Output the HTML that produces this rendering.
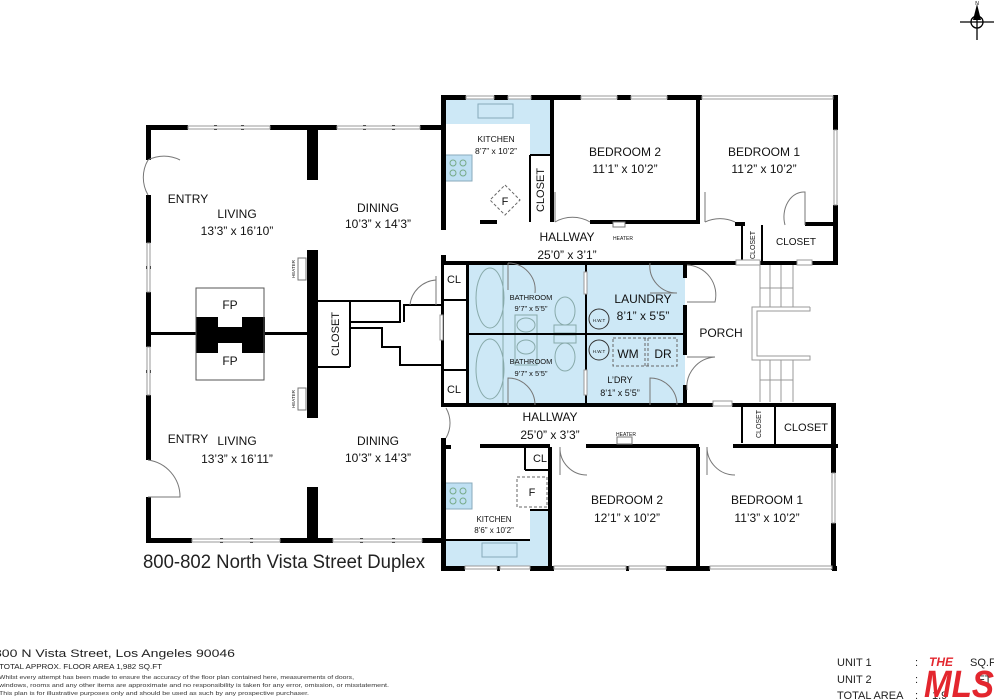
<!DOCTYPE html>
<html><head><meta charset="utf-8"><style>
html,body{margin:0;padding:0;background:#fff;}
svg{display:block;font-family:"Liberation Sans",sans-serif;}
</style></head><body>
<svg width="994" height="699" viewBox="0 0 994 699" xmlns="http://www.w3.org/2000/svg">
<rect width="994" height="699" fill="#fff"/>
<g fill="#cde8f6">
<polygon points="443,99 552,99 552,155 530,155 530,124 443,124"/>
<rect x="467" y="263" width="218" height="142"/>
<polygon points="443,540 530,540 530,510 550,510 550,568 443,568"/>
</g>
<g fill="#bfe0f3" stroke="#8ab" stroke-width="1">
<rect x="445" y="155" width="27" height="26"/>
<rect x="445" y="483" width="27" height="26"/>
<rect x="478" y="104" width="35" height="14" fill="none"/>
<rect x="482" y="543" width="35" height="14" fill="none"/>
</g>
<g fill="none" stroke="#7a8" stroke-width="1">
<circle cx="453" cy="163" r="3"/><circle cx="463" cy="163" r="3"/><circle cx="453" cy="173" r="3"/><circle cx="463" cy="173" r="3"/>
<circle cx="453" cy="491" r="3"/><circle cx="463" cy="491" r="3"/><circle cx="453" cy="501" r="3"/><circle cx="463" cy="501" r="3"/>
</g>
<g fill="none" stroke="#8aa" stroke-width="1">
<ellipse cx="490" cy="298" rx="14" ry="30"/><ellipse cx="490" cy="369" rx="14" ry="30"/>
<line x1="503" y1="265" x2="503" y2="403"/>
<rect x="515" y="315" width="22" height="50"/>
<ellipse cx="526" cy="325" rx="9" ry="7"/><ellipse cx="526" cy="347" rx="9" ry="7"/>
<ellipse cx="565" cy="311" rx="10" ry="14"/><rect x="554" y="325" width="22" height="8"/><rect x="554" y="335" width="22" height="8"/><ellipse cx="565" cy="357" rx="10" ry="14"/>
<circle cx="599" cy="319" r="10" stroke="#333"/><circle cx="599" cy="350" r="10" stroke="#333"/>
</g>
<g fill="none" stroke="#666" stroke-width="1" stroke-dasharray="3,2">
<rect x="613" y="338" width="64" height="28"/><line x1="645" y1="338" x2="645" y2="366"/><line x1="648" y1="338" x2="648" y2="366"/>
<polygon points="505,185 520,200 505,215 490,200"/>
<rect x="517" y="477" width="30" height="30"/>
</g>
<g fill="none" stroke="#000" stroke-width="2">
<line x1="350" y1="301" x2="350" y2="367"/>
<line x1="318" y1="301" x2="350" y2="301"/>
<line x1="318" y1="367" x2="350" y2="367"/>
<polyline points="350,301 400,301 400,322 350,322"/>
<polyline points="350,328 382,328 382,347 400,347 400,365 441,365"/>
<polyline points="404,322 404,305 441,305"/>
<line x1="441" y1="300" x2="467" y2="300"/>
<line x1="441" y1="370" x2="467" y2="370"/>
<line x1="467" y1="334" x2="685" y2="334"/>
<line x1="586" y1="263" x2="586" y2="405"/>
<line x1="530" y1="155" x2="552" y2="155"/>
<line x1="530" y1="155" x2="530" y2="222"/>
<line x1="742" y1="225" x2="742" y2="265"/>
<line x1="762" y1="225" x2="762" y2="265"/>
<line x1="742" y1="405" x2="742" y2="443"/>
<line x1="775" y1="405" x2="775" y2="447"/>
<line x1="525" y1="447" x2="525" y2="470"/><line x1="525" y1="470" x2="550" y2="470"/>
<line x1="530" y1="510" x2="550" y2="510"/>
<line x1="443" y1="540" x2="530" y2="540"/>
</g>
<g fill="#000">
<!-- left block top wall y=127 -->
<rect x="146" y="125" width="42" height="5"/><rect x="214" y="125" width="3" height="5"/><rect x="241" y="125" width="3" height="5"/>
<rect x="270" y="125" width="67" height="5"/><rect x="363" y="125" width="3" height="5"/><rect x="392" y="125" width="3" height="5"/><rect x="420" y="125" width="24" height="5"/>
<!-- left block bottom wall y=540 -->
<rect x="146" y="538" width="46" height="5"/><rect x="220" y="538" width="3" height="5"/><rect x="250" y="538" width="3" height="5"/><rect x="280" y="538" width="53" height="5"/><rect x="360" y="538" width="3" height="5"/><rect x="392" y="538" width="3" height="5"/><rect x="422" y="538" width="22" height="5"/>
<!-- left wall -->
<rect x="146" y="125" width="5" height="35"/><rect x="146" y="195" width="5" height="48"/><rect x="146" y="266" width="5" height="3"/><rect x="146" y="292" width="5" height="55"/><rect x="146" y="370" width="5" height="3"/><rect x="146" y="395" width="5" height="65"/><rect x="146" y="497" width="5" height="46"/>
<rect x="148" y="332" width="50" height="3"/><rect x="265" y="332" width="42" height="3"/>
<rect x="307" y="127" width="11" height="53"/><rect x="307" y="250" width="11" height="168"/><rect x="307" y="487" width="11" height="53"/>
<rect x="196" y="317" width="69" height="36"/>
<rect x="441" y="95" width="5" height="135"/><rect x="441" y="255" width="5" height="8"/>
<rect x="441" y="95" width="25" height="5"/><rect x="494" y="95" width="14" height="5"/><rect x="531" y="95" width="50" height="5"/><rect x="617" y="95" width="14" height="5"/><rect x="667" y="95" width="35" height="5"/>
<rect x="833" y="95" width="5" height="35"/><rect x="833" y="205" width="5" height="60"/>
<rect x="550" y="97" width="4" height="125"/><rect x="696" y="97" width="4" height="127"/>
<rect x="480" y="220" width="17" height="4"/><rect x="590" y="220" width="108" height="4"/><rect x="735" y="222" width="10" height="4"/><rect x="805" y="222" width="33" height="4"/>
<rect x="441" y="261" width="240" height="4"/><rect x="681" y="261" width="55" height="4"/><rect x="760" y="261" width="78" height="4"/>
<rect x="441" y="261" width="3" height="145"/><rect x="466" y="261" width="3" height="145"/>
<rect x="441" y="403" width="246" height="4"/><rect x="683" y="403" width="30" height="4"/><rect x="732" y="403" width="103" height="4"/>
<rect x="683" y="263" width="4" height="15"/><rect x="683" y="305" width="4" height="50"/><rect x="683" y="385" width="4" height="22"/>
<rect x="441" y="438" width="5" height="133"/><rect x="441" y="445" width="10" height="4"/>
<rect x="480" y="444" width="70" height="4"/><rect x="586" y="444" width="113" height="4"/><rect x="733" y="444" width="105" height="4"/>
<rect x="831" y="403" width="5" height="70"/><rect x="831" y="523" width="5" height="47"/>
<rect x="548" y="447" width="4" height="123"/><rect x="696" y="447" width="4" height="123"/>
<rect x="441" y="566" width="24" height="5"/><rect x="497" y="566" width="3" height="5"/><rect x="530" y="566" width="24" height="5"/><rect x="626" y="566" width="3" height="5"/><rect x="666" y="566" width="44" height="5"/><rect x="832" y="566" width="5" height="5"/>
</g>
<g fill="none" stroke="#555" stroke-width="1">
<rect x="196" y="288" width="68" height="92"/>
</g>
<rect x="218" y="317" width="24" height="10" fill="#fff"/><rect x="218" y="343" width="24" height="10" fill="#fff"/>
<g fill="#fff" stroke="#999" stroke-width="1">
<rect x="188" y="126" width="82" height="3"/><rect x="337" y="126" width="83" height="3"/>
<rect x="192" y="539" width="88" height="3"/><rect x="333" y="539" width="89" height="3"/>
<rect x="147" y="243" width="3" height="49"/><rect x="147" y="347" width="3" height="48"/>
<rect x="466" y="96" width="28" height="3"/><rect x="508" y="96" width="23" height="3"/><rect x="581" y="96" width="36" height="3"/><rect x="631" y="96" width="36" height="3"/><rect x="702" y="96" width="131" height="3"/>
<rect x="834" y="130" width="3" height="75"/><rect x="832" y="473" width="3" height="50"/>
<rect x="465" y="566" width="32" height="3"/><rect x="500" y="566" width="30" height="3"/><rect x="554" y="566" width="72" height="3"/><rect x="629" y="566" width="37" height="3"/><rect x="710" y="566" width="122" height="3"/>
<rect x="440" y="315" width="3" height="25"/><rect x="584" y="272" width="3" height="22"/><rect x="584" y="370" width="3" height="25"/>
<rect x="713" y="401" width="19" height="5"/><rect x="736" y="260" width="24" height="5"/><rect x="797" y="260" width="15" height="5"/>
</g>
<g fill="none" stroke="#777" stroke-width="1">
<path d="M148,160 A35,35 0 0 1 180,160 M148,160 A35,35 0 0 0 148,195"/>
<path d="M148,460 A37,37 0 0 1 180,497 L148,497"/>
<path d="M436,280 A28,28 0 0 0 410,305"/><line x1="436" y1="276" x2="436" y2="305"/>
<path d="M555,222 A35,35 0 0 1 590,222 M555,192 L555,222" />
<path d="M705,222 A35,35 0 0 1 735,222 M705,192 L705,222"/>
<path d="M785,225 A20,25 0 0 1 805,192 L805,225"/>
<path d="M687,265 A30,30 0 0 1 715,302 L687,302"/>
<path d="M687,390 A30,30 0 0 1 715,357 L687,357"/>
<path d="M508,263 A27,27 0 0 1 535,293 M508,263 L508,290"/>
<path d="M535,405 A27,27 0 0 0 508,378 L508,405"/>
<path d="M650,263 A27,27 0 0 0 677,293 L650,293"/>
<path d="M677,405 A27,27 0 0 0 650,378 L650,405"/>
<path d="M446,408 A30,30 0 0 1 446,438"/>
<path d="M560,447 A27,27 0 0 0 587,475 M560,447 L560,475"/>
<path d="M707,447 A28,28 0 0 0 735,475 M707,447 L707,475"/>
</g>
<g fill="#fff" stroke="#777" stroke-width="1">
<rect x="298" y="258" width="8" height="22"/><rect x="298" y="388" width="8" height="22"/>
<rect x="613" y="222" width="12" height="5"/><rect x="617" y="437" width="15" height="7"/>
</g>
<g fill="none" stroke="#999" stroke-width="1">
<line x1="760" y1="265" x2="760" y2="307"/><line x1="770" y1="265" x2="770" y2="307"/><line x1="781" y1="265" x2="781" y2="307"/><line x1="793" y1="265" x2="793" y2="307"/>
<line x1="760" y1="360" x2="760" y2="402"/><line x1="770" y1="360" x2="770" y2="402"/><line x1="781" y1="360" x2="781" y2="402"/><line x1="793" y1="360" x2="793" y2="402"/>
<line x1="760" y1="288" x2="793" y2="288"/><line x1="760" y1="380" x2="793" y2="380"/>
<polyline points="810,307 752,307 752,360 810,360 810,356 757,356 757,311 810,311 810,307"/>
</g>
<g stroke="#000" stroke-width="1.3" fill="none">
<circle cx="977" cy="22" r="6"/><line x1="960" y1="22" x2="994" y2="22"/><line x1="977" y1="8" x2="977" y2="40"/>
</g>
<polygon points="977,4 973,20 981,20" fill="#000"/>
<text x="977" y="5" font-size="5" text-anchor="middle">N</text>
<g fill="#111" text-anchor="middle">
<text x="188" y="203" font-size="12">ENTRY</text>
<text x="237" y="218" font-size="12">LIVING</text>
<text x="237" y="235" font-size="12">13’3” x 16’10”</text>
<text x="378" y="212" font-size="12">DINING</text>
<text x="378" y="228" font-size="12">10’3” x 14’3”</text>
<text x="188" y="443" font-size="12">ENTRY</text>
<text x="237" y="445" font-size="12">LIVING</text>
<text x="237" y="463" font-size="12">13’3” x 16’11”</text>
<text x="378" y="445" font-size="12">DINING</text>
<text x="378" y="462" font-size="12">10’3” x 14’3”</text>
<text x="230" y="309" font-size="12">FP</text>
<text x="230" y="365" font-size="12">FP</text>
<text x="496" y="142" font-size="8.5">KITCHEN</text>
<text x="496" y="154" font-size="8.5">8’7” x 10’2”</text>
<text x="505" y="205" font-size="11">F</text>
<text x="625" y="156" font-size="12">BEDROOM 2</text>
<text x="625" y="173" font-size="12">11’1” x 10’2”</text>
<text x="764" y="156" font-size="12">BEDROOM 1</text>
<text x="764" y="173" font-size="12">11’2” x 10’2”</text>
<text x="567" y="241" font-size="12">HALLWAY</text>
<text x="567" y="259" font-size="12">25’0” x 3’1”</text>
<text x="623" y="240" font-size="5">HEATER</text>
<text x="796" y="245" font-size="10">CLOSET</text>
<text x="454" y="283" font-size="11">CL</text>
<text x="454" y="393" font-size="11">CL</text>
<text x="531" y="300" font-size="7.5">BATHROOM</text>
<text x="531" y="311" font-size="7.5">9’7” x 5’5”</text>
<text x="531" y="364" font-size="7.5">BATHROOM</text>
<text x="531" y="376" font-size="7.5">9’7” x 5’5”</text>
<text x="643" y="303" font-size="12">LAUNDRY</text>
<text x="643" y="320" font-size="12">8’1” x 5’5”</text>
<text x="599" y="322" font-size="4.5">H.W.T</text>
<text x="599" y="353" font-size="4.5">H.W.T</text>
<text x="628" y="358" font-size="12">WM</text>
<text x="663" y="358" font-size="12">DR</text>
<text x="620" y="383" font-size="9">L’DRY</text>
<text x="620" y="396" font-size="9">8’1” x 5’5”</text>
<text x="721" y="337" font-size="12">PORCH</text>
<text x="550" y="421" font-size="12">HALLWAY</text>
<text x="550" y="439" font-size="12">25’0” x 3’3”</text>
<text x="626" y="436" font-size="5">HEATER</text>
<text x="806" y="431" font-size="11">CLOSET</text>
<text x="540" y="462" font-size="11">CL</text>
<text x="532" y="496" font-size="11">F</text>
<text x="494" y="522" font-size="8">KITCHEN</text>
<text x="494" y="533" font-size="8">8’6” x 10’2”</text>
<text x="627" y="504" font-size="12">BEDROOM 2</text>
<text x="627" y="522" font-size="12">12’1” x 10’2”</text>
<text x="767" y="504" font-size="12">BEDROOM 1</text>
<text x="767" y="522" font-size="12">11’3” x 10’2”</text>
</g>
<g fill="#111" text-anchor="middle">
<text transform="translate(544,190) rotate(-90)" font-size="11">CLOSET</text>
<text transform="translate(339,334) rotate(-90)" font-size="11">CLOSET</text>
<text transform="translate(755,245) rotate(-90)" font-size="7">CLOSET</text>
<text transform="translate(761,424) rotate(-90)" font-size="7">CLOSET</text>
<text transform="translate(295,269) rotate(-90)" font-size="4.5">HEATER</text>
<text transform="translate(295,399) rotate(-90)" font-size="4.5">HEATER</text>
</g>
<text x="143" y="568" font-size="19" fill="#222" textLength="282" lengthAdjust="spacingAndGlyphs">800-802 North Vista Street Duplex</text>
<text x="-6" y="657" font-size="11" fill="#222" textLength="241" lengthAdjust="spacingAndGlyphs">800 N Vista Street, Los Angeles 90046</text>
<text x="-1" y="669" font-size="7.5" fill="#222" textLength="163" lengthAdjust="spacingAndGlyphs">TOTAL APPROX. FLOOR AREA 1,982 SQ.FT</text>
<text x="-1" y="679" font-size="5.6" fill="#333" textLength="355" lengthAdjust="spacingAndGlyphs">Whilst every attempt has been made to ensure the accuracy of the floor plan contained here, measurements of doors,</text>
<text x="-1" y="687" font-size="5.6" fill="#333" textLength="390" lengthAdjust="spacingAndGlyphs">windows, rooms and any other items are approximate and no responsibility is taken for any error, omission, or misstatement.</text>
<text x="-1" y="695" font-size="5.6" fill="#333" textLength="310" lengthAdjust="spacingAndGlyphs">This plan is for illustrative purposes only and should be used as such by any prospective purchaser.</text>
<g font-size="11" fill="#222">
<text x="837" y="666">UNIT 1</text><text x="837" y="683">UNIT 2</text><text x="837" y="699">TOTAL AREA</text>
<text x="915" y="666">:</text><text x="915" y="683">:</text><text x="915" y="699">:</text>
<text x="970" y="666">SQ.FT</text><text x="978" y="683">FT</text><text x="932" y="699">1,9</text>
</g>
<g fill="#e3262e">
<text x="929" y="666" font-size="12" font-weight="bold" font-style="italic">THE</text>
<text x="924" y="697" font-size="38" font-weight="bold" font-style="italic" textLength="70" lengthAdjust="spacingAndGlyphs">MLS</text>
</g>
</svg>
</body></html>
